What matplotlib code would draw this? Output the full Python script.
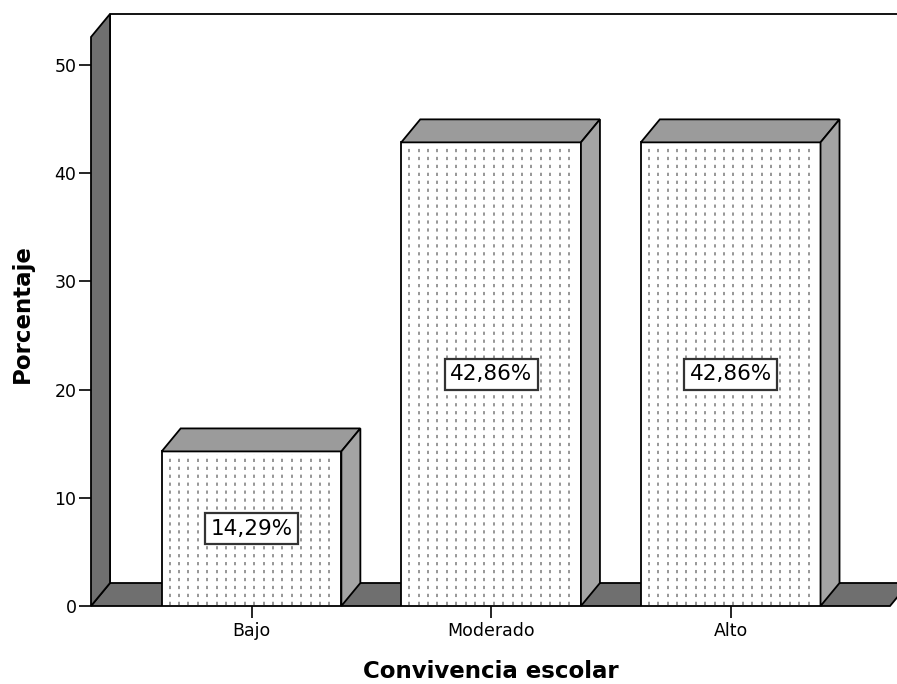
import numpy as np
import matplotlib
matplotlib.use("Agg")
import matplotlib.pyplot as plt
from matplotlib.patches import Polygon, Rectangle

# data
categories = ['Bajo', 'Moderado', 'Alto']
percentages = [14.29, 42.86, 42.86]
bar_labels = ['14,29%', '42,86%', '42,86%']
y_ticks = [0, 10, 20, 30, 40, 50]

W, H = 897, 684
fig = plt.figure(figsize=(W / 100, H / 100), dpi=100)
# front plane of the 3d box
ax = fig.add_axes([91 / W, 1 - 606 / H, (890 - 91) / W, (606 - 37) / H])
x0, x1 = -0.67, 2.665
ytop = 52.6
ax.set_xlim(x0, x1)
ax.set_ylim(0, ytop)
for s in ax.spines.values():
    s.set_visible(False)

# depth of the 3d effect, pixels -> data units
px_x = (x1 - x0) / (890 - 91)
px_y = ytop / (606 - 37)
dx, dy = 19 * px_x, 23 * px_y

wall_c = '#6f6f6f'
top_c = '#9b9b9b'
side_c = '#a4a4a4'
lw = 1.3

# back wall outline
ax.plot([x0 + dx, x0 + dx, x1 + 2], [dy, ytop + dy, ytop + dy],
        color='black', lw=lw, clip_on=False, zorder=1)
# floor
ax.add_patch(Polygon([(x0, 0), (x1, 0), (x1 + dx, dy), (x0 + dx, dy)], closed=True,
                     fc=wall_c, ec='black', lw=lw, clip_on=False, zorder=2))
# left wall
ax.add_patch(Polygon([(x0, 0), (x0, ytop), (x0 + dx, ytop + dy), (x0 + dx, dy)], closed=True,
                     fc=wall_c, ec='black', lw=lw, clip_on=False, zorder=2))

bw = 0.75
col_step = 9.4 * px_x
for i, v in enumerate(percentages):
    l, r = i - bw / 2, i + bw / 2
    z = 3 + i
    ax.add_patch(Rectangle((l, 0), bw, v, fc='white', ec='none', zorder=z))
    # dotted fill pattern
    for xc in np.arange(l + 8 * px_x, r - 4 * px_x, col_step):
        ax.plot([xc, xc], [1 * px_y, v - 3 * px_y], color='#8f8f8f', lw=1.3,
                ls=(0, (1.8, 2.6)), zorder=z)
    ax.add_patch(Rectangle((l, 0), bw, v, fc='none', ec='black', lw=lw, zorder=z))
    # top face
    ax.add_patch(Polygon([(l, v), (r, v), (r + dx, v + dy), (l + dx, v + dy)], closed=True,
                         fc=top_c, ec='black', lw=lw, clip_on=False, zorder=z))
    # side face
    ax.add_patch(Polygon([(r, 0), (r + dx, dy), (r + dx, v + dy), (r, v)], closed=True,
                         fc=side_c, ec='black', lw=lw, clip_on=False, zorder=z))
    ax.text(i, v / 2, bar_labels[i], ha='center', va='center', fontsize=15.5, zorder=10 + i,
            bbox=dict(boxstyle='square,pad=0.25', fc='white', ec='#333333', lw=1.6))

ax.set_yticks(y_ticks)
ax.set_xticks(range(len(categories)))
ax.set_xticklabels(categories)
ax.tick_params(axis='y', length=9, width=1.2, pad=1.5, labelsize=12.5)
ax.tick_params(axis='x', length=8.5, width=1.2, pad=3, labelsize=12.5)

ax.set_xlabel('Convivencia escolar', fontsize=16.5, fontweight='bold', va='center')
ax.xaxis.set_label_coords(0.5, (606 - 672) / (606 - 37))
ax.set_ylabel('Porcentaje', fontsize=16.5, fontweight='bold', va='center')
ax.yaxis.set_label_coords((22 - 91) / (890 - 91), (606 - 314) / (606 - 37))

fig.savefig('out.png', dpi=100)
